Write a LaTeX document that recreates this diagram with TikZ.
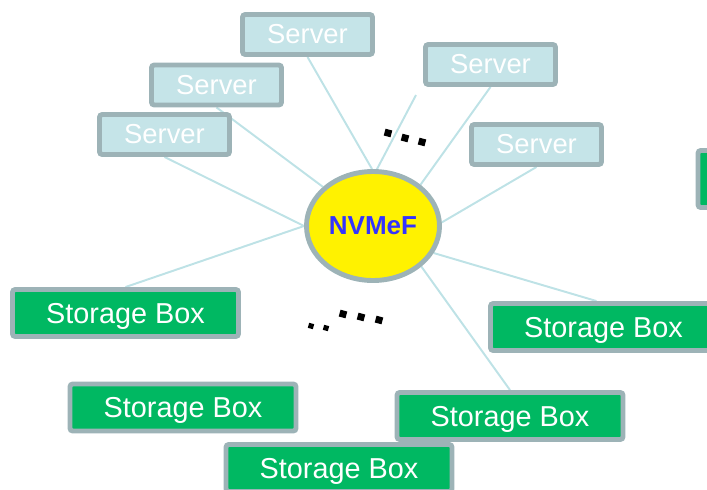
\documentclass[tikz,border=0pt]{standalone}
\usepackage{fontspec}
\setmainfont{Liberation Sans}
\definecolor{srvfill}{RGB}{197,228,232}
\definecolor{edgegray}{RGB}{157,179,183}
\definecolor{boxgreen}{RGB}{0,184,98}
\definecolor{fabricblue}{RGB}{51,51,255}
\definecolor{linkblue}{RGB}{190,226,230}
\usetikzlibrary{shapes.geometric, backgrounds}

\tikzset{
  serverbox/.style={draw=edgegray, line width=3.5pt, fill=srvfill, rounded corners=2pt, minimum width=3.25cm, minimum height=1cm, inner sep=0pt, text=white, font=\fontsize{19.5}{21}\selectfont},
  storagebox/.style={draw=edgegray, line width=3.5pt, fill=boxgreen, rounded corners=2pt, minimum width=5.65cm, minimum height=1.175cm, inner sep=0pt, text depth=0pt, text=white, font=\fontsize{20.5}{22}\selectfont},
  link/.style={draw=linkblue, line width=1.4pt},
  sqdot/.style={fill=black, inner sep=0pt, minimum size=0.175cm, rotate=-15}
}

\begin{document}
\begin{tikzpicture}
  \useasboundingbox (0,0) rectangle (17.675,12.225);
  \clip (0,0) rectangle (17.675,12.225);

  % Fabric in the middle
  \node[ellipse, draw=edgegray, line width=3.5pt, fill=yellow, minimum width=3.325cm, minimum height=2.725cm, inner sep=0pt, text=fabricblue, font=\fontsize{18.5}{20}\selectfont\bfseries] (nvmef) at (9.325, 6.575) {NVMeF};

  % Servers
  \node[serverbox] (srvA) at (7.6875, 11.3625) {Server};
  \node[serverbox] (srvB) at (5.4125, 10.1) {Server};
  \node[serverbox] (srvC) at (4.1125, 8.8625) {Server};
  \node[serverbox] (srvD) at (12.2625, 10.6125) {Server};
  \node[serverbox] (srvE) at (13.4125, 8.6125) {Server};

  % Storage boxes
  \node[storagebox] (sbA) at (3.1375, 4.4) {Storage Box};
  \node[storagebox] (sbB) at (15.0875, 4.05) {Storage Box};
  \node[storagebox] (sbC) at (4.575, 2.0375) {Storage Box};
  \node[storagebox] (sbD) at (12.75, 1.825) {Storage Box};
  \node[storagebox] (sbE) at (8.475, 0.525) {Storage Box};
  \node[storagebox, minimum height=1.425cm] (sbF) at (20.275, 7.75) {};

  % Links to the fabric
  \coordinate (loose) at (10.4, 9.85);
  \begin{pgfonlayer}{background}
    \draw[link] (srvA.south) -- (nvmef.91);
    \draw[link] (srvB.south) -- (nvmef.142);
    \draw[link] (srvC.south) -- (nvmef.180);
    \draw[link] (srvD.south) -- (nvmef.41);
    \draw[link] (srvE.south) -- (nvmef.3);
    \draw[link] (loose) -- (nvmef.86);
    \draw[link] (sbA.north) -- (nvmef.180);
    \draw[link] ([xshift=-0.175cm]sbB.north) -- (nvmef.-24);
    \draw[link] (sbD.north) -- (nvmef.-40);
  \end{pgfonlayer}

  % Dots
  \foreach \x/\y [count=\i] in {9.7/8.9, 10.125/8.775, 10.55/8.675}
    \node[sqdot] (dotu\i) at (\x,\y) {};
  \foreach \x/\y/\s [count=\i] in {7.775/4.075/0.13, 8.15/4.025/0.13, 8.575/4.375/0.175, 9.025/4.3/0.175, 9.475/4.225/0.175}
    \node[sqdot, minimum size=\s cm] (dotl\i) at (\x,\y) {};
\end{tikzpicture}
\end{document}
